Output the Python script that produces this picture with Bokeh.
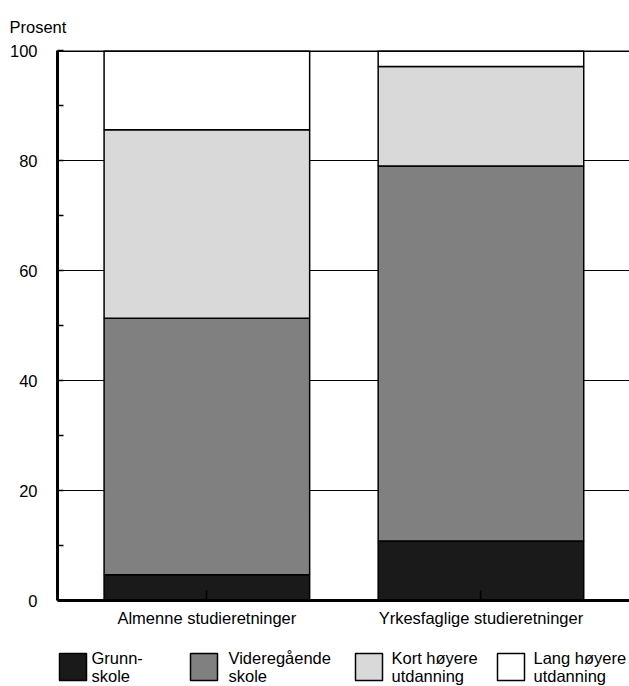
from bokeh.plotting import figure
from bokeh.models import ColumnDataSource, Range1d, SingleIntervalTicker, FixedTicker, Span
from bokeh.layouts import column
from bokeh.embed import file_html
from bokeh.resources import INLINE
from bokeh.core.properties import value

# ---- data ----
categories = ["Almenne studieretninger", "Yrkesfaglige studieretninger"]
series = ["Grunnskole", "Videregående skole", "Kort høyere utdanning", "Lang høyere utdanning"]
legend_labels = ["Grunn-\nskole", "Videregående\nskole", "Kort høyere\nutdanning", "Lang høyere\nutdanning"]
grunnskole = [4.7, 10.8]
videregaende = [46.6, 68.2]
kort_hoyere = [34.3, 18.1]
lang_hoyere = [14.4, 2.9]
colors = ["#1a1a1a", "#808080", "#d9d9d9", "#ffffff"]
y_label = "Prosent"

FONT = "Liberation Sans"
FS = "16.5px"

x_pos = [1, 2]
src = ColumnDataSource(dict(x=x_pos, s0=grunnskole, s1=videregaende, s2=kort_hoyere, s3=lang_hoyere))

p = figure(width=629, height=640, output_backend="svg", toolbar_location=None,
           x_range=Range1d(0.455, 2.542), y_range=Range1d(0, 100),
           min_border_left=57, min_border_right=0, min_border_top=50, min_border_bottom=40)
p.outline_line_color = None
p.background_fill_color = "white"

p.title.text = y_label
p.title.align = "left"
p.title.offset = -48
p.title.standoff = 30
p.title.text_font = FONT
p.title.text_font_size = FS
p.title.text_font_style = "normal"
p.title.text_color = "black"

p.vbar_stack(["s0", "s1", "s2", "s3"], x="x", width=0.75, source=src,
             fill_color=colors, line_color="black", line_width=1.5)

# y axis
yax = p.yaxis[0]
yax.ticker = SingleIntervalTicker(interval=20, num_minor_ticks=2)
yax.axis_line_width = 3
yax.axis_line_color = "black"
yax.major_tick_in = 0
yax.major_tick_out = 0
yax.minor_tick_in = 6
yax.minor_tick_out = 0
yax.minor_tick_line_color = "black"
yax.minor_tick_line_width = 1.5
yax.major_label_standoff = 20
yax.major_label_text_font = FONT
yax.major_label_text_font_size = FS
yax.major_label_text_color = "black"

# x axis
xax = p.xaxis[0]
xax.ticker = FixedTicker(ticks=x_pos)
xax.major_label_overrides = {1: categories[0], 2: categories[1]}
xax.axis_line_width = 3
xax.axis_line_color = "black"
xax.major_tick_in = 10
xax.major_tick_out = 0
xax.major_tick_line_color = "black"
xax.major_tick_line_width = 1.5
xax.minor_tick_line_color = None
xax.major_label_standoff = 8
xax.major_label_text_font = FONT
xax.major_label_text_font_size = FS
xax.major_label_text_color = "black"

p.xgrid.grid_line_color = None
p.ygrid.ticker = SingleIntervalTicker(interval=20)
p.ygrid.grid_line_color = "black"
p.ygrid.grid_line_width = 1.1
p.ygrid.level = "underlay"

p.add_layout(Span(location=100, dimension="width", line_color="black", line_width=3))

# ---- legend figure: frame spans x 57..629 (same as main), coordinates = page pixels ----
lg = figure(width=629, height=46, output_backend="svg", toolbar_location=None,
            x_range=Range1d(57, 629), y_range=Range1d(46, 0),
            x_axis_type=None, y_axis_type=None,
            min_border_left=57, min_border_right=0, min_border_top=0, min_border_bottom=0)
lg.grid.visible = False
lg.outline_line_color = None

sq_left = [59, 190, 355, 497]
txt_left = [91, 228, 391, 533]
line1 = [t.split("\n")[0] for t in legend_labels]
line2 = [t.split("\n")[1] for t in legend_labels]
lsrc = ColumnDataSource(dict(x=[v + 13.5 for v in sq_left], tx=txt_left, y=[26.5] * 4,
                             y1=[17] * 4, y2=[35] * 4, c=colors, t1=line1, t2=line2))
lg.rect(x="x", y="y", width=27, height=27, source=lsrc, fill_color="c",
        line_color="black", line_width=1.5)
for col, ycol in (("t1", "y1"), ("t2", "y2")):
    lg.text(x="tx", y=ycol, text=col, source=lsrc, text_font=value(FONT), text_font_size=FS,
            text_baseline="alphabetic", text_align="left", text_color="black")

layout = column(p, lg, spacing=0)
open("out.html", "w").write(file_html(layout, INLINE))
